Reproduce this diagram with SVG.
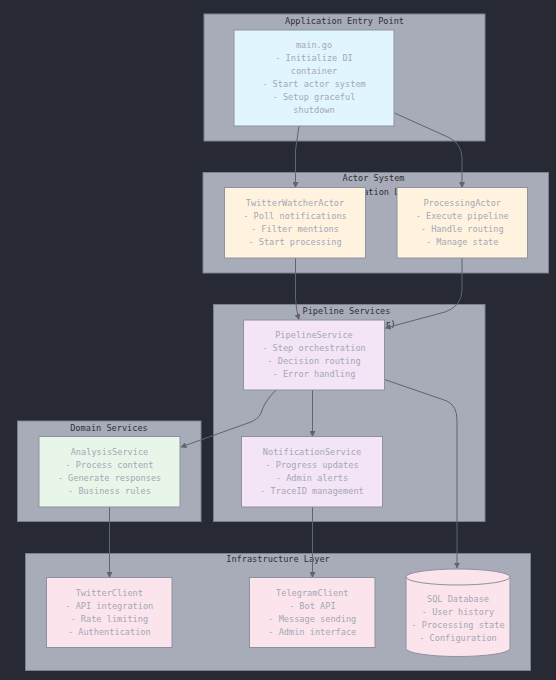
<svg xmlns="http://www.w3.org/2000/svg" width="556" height="680" viewBox="0 0 556 680">
<defs>
<style>
.bg{fill:#272935}
.cl{fill:#a8acb9;stroke:#7c8190;stroke-width:1}
.ct{font-family:"DejaVu Sans Mono","Liberation Mono",monospace;font-size:8.6px;fill:#2c2f3a;text-anchor:middle}
.nd{stroke:#8e92a0;stroke-width:1}
.nt{font-family:"DejaVu Sans Mono","Liberation Mono",monospace;font-size:8.6px;fill:#a3a8b6;text-anchor:middle}
.e{fill:none;stroke:#5f6472;stroke-width:1}
.blue{fill:#e1f5fe}.orange{fill:#fff3e0}.purple{fill:#f3e5f5}.green{fill:#e8f5e9}.pink{fill:#fce4ec}
</style>
<marker id="ah" viewBox="0 0 10 10" refX="9" refY="5" markerWidth="6" markerHeight="6" orient="auto" markerUnits="userSpaceOnUse">
<path d="M0,0 L10,5 L0,10 z" fill="#5f6472"/>
</marker>
</defs>
<rect class="bg" x="0" y="0" width="556" height="680"/>

<g id="clusters">
<g id="cluster-entry"><rect class="cl" x="204" y="14" width="281" height="127"/><text class="ct" x="344.5" y="23.5">Application Entry Point</text></g>
<g id="cluster-actor"><rect class="cl" x="203" y="172.5" width="345.5" height="100.5"/><text class="ct" x="373.5" y="181">Actor System</text><text class="ct" x="373.5" y="194.5">(Presentation Layer)</text></g>
<g id="cluster-pipeline"><rect class="cl" x="213.5" y="304.5" width="271.5" height="217"/><text class="ct" x="346.5" y="313.5">Pipeline Services</text><text class="ct" x="346.5" y="326.5">(Application Layer)</text></g>
<g id="cluster-domain"><rect class="cl" x="17.5" y="421" width="183.5" height="100.5"/><text class="ct" x="109" y="430.5">Domain Services</text></g>
<g id="cluster-infra"><rect class="cl" x="25.5" y="553.5" width="505" height="117"/><text class="ct" x="278" y="562">Infrastructure Layer</text></g>
</g>

<g id="connectors">
<path class="e" marker-end="url(#ah)" d="M299,126 Q297,140 295.5,150 L295.5,187.5"/>
<path class="e" marker-end="url(#ah)" d="M394.5,113 L450,138 Q462,145 462,158 L462,187.5"/>
<path class="e" marker-end="url(#ah)" d="M295.5,258 L295.5,298 Q296,310 299,319.5"/>
<path class="e" marker-end="url(#ah)" d="M462,258 L462,290 Q462,306 445,312 L385.5,328"/>
<path class="e" marker-end="url(#ah)" d="M276,390 Q264,402 261,413 Q258,420 248,423 L181,447"/>
<path class="e" marker-end="url(#ah)" d="M312.5,390 L312.5,436.5"/>
<path class="e" marker-end="url(#ah)" d="M384.5,379.5 L447,401 Q457,406 457,420 L457,568"/>
<path class="e" marker-end="url(#ah)" d="M109.5,507 L109.5,577.5"/>
<path class="e" marker-end="url(#ah)" d="M312.5,507 L312.5,577.5"/>
</g>

<g id="main-go">
<rect class="nd blue" x="234" y="30" width="160" height="96"/>
<text class="nt" x="314" y="48">main.go</text>
<text class="nt" x="314" y="61">- Initialize DI</text>
<text class="nt" x="314" y="74">container</text>
<text class="nt" x="314" y="87">- Start actor system</text>
<text class="nt" x="314" y="100">- Setup graceful</text>
<text class="nt" x="314" y="113">shutdown</text>
</g>

<g id="twitter-watcher-actor">
<rect class="nd orange" x="224.5" y="187.5" width="141" height="70.5"/>
<text class="nt" x="295" y="206.3">TwitterWatcherActor</text>
<text class="nt" x="295" y="219.3">- Poll notifications</text>
<text class="nt" x="295" y="232.3">- Filter mentions</text>
<text class="nt" x="295" y="245.3">- Start processing</text>
</g>

<g id="processing-actor">
<rect class="nd orange" x="397" y="187.5" width="130.5" height="70.5"/>
<text class="nt" x="462.2" y="206.3">ProcessingActor</text>
<text class="nt" x="462.2" y="219.3">- Execute pipeline</text>
<text class="nt" x="462.2" y="232.3">- Handle routing</text>
<text class="nt" x="462.2" y="245.3">- Manage state</text>
</g>

<g id="pipeline-service">
<rect class="nd purple" x="243.5" y="320" width="141" height="70"/>
<text class="nt" x="314" y="338.3">PipelineService</text>
<text class="nt" x="314" y="351.3">- Step orchestration</text>
<text class="nt" x="314" y="364.3">- Decision routing</text>
<text class="nt" x="314" y="377.3">- Error handling</text>
</g>

<g id="notification-service">
<rect class="nd purple" x="241.5" y="436.5" width="141" height="70.5"/>
<text class="nt" x="312" y="454.7">NotificationService</text>
<text class="nt" x="312" y="467.7">- Progress updates</text>
<text class="nt" x="312" y="480.7">- Admin alerts</text>
<text class="nt" x="312" y="493.7">- TraceID management</text>
</g>

<g id="analysis-service">
<rect class="nd green" x="39" y="436.5" width="141" height="70.5"/>
<text class="nt" x="109.5" y="454.7">AnalysisService</text>
<text class="nt" x="109.5" y="467.7">- Process content</text>
<text class="nt" x="109.5" y="480.7">- Generate responses</text>
<text class="nt" x="109.5" y="493.7">- Business rules</text>
</g>

<g id="twitter-client">
<rect class="nd pink" x="46.5" y="577.5" width="125.5" height="70"/>
<text class="nt" x="109.3" y="595.7">TwitterClient</text>
<text class="nt" x="109.3" y="608.7">- API integration</text>
<text class="nt" x="109.3" y="621.7">- Rate limiting</text>
<text class="nt" x="109.3" y="634.7">- Authentication</text>
</g>

<g id="telegram-client">
<rect class="nd pink" x="249.5" y="577.5" width="125.5" height="70"/>
<text class="nt" x="312.3" y="595.7">TelegramClient</text>
<text class="nt" x="312.3" y="608.7">- Bot API</text>
<text class="nt" x="312.3" y="621.7">- Message sending</text>
<text class="nt" x="312.3" y="634.7">- Admin interface</text>
</g>

<g id="sql-database">
<path class="nd pink" d="M406,577 A52,8 0 0 1 510,577 L510,648.5 A52,8 0 0 1 406,648.5 Z"/>
<path fill="none" stroke="#8e92a0" stroke-width="1" d="M406,577 A52,8 0 0 0 510,577"/>
<text class="nt" x="458" y="602">SQL Database</text>
<text class="nt" x="458" y="615">- User history</text>
<text class="nt" x="458" y="628">- Processing state</text>
<text class="nt" x="458" y="641">- Configuration</text>
</g>
</svg>
